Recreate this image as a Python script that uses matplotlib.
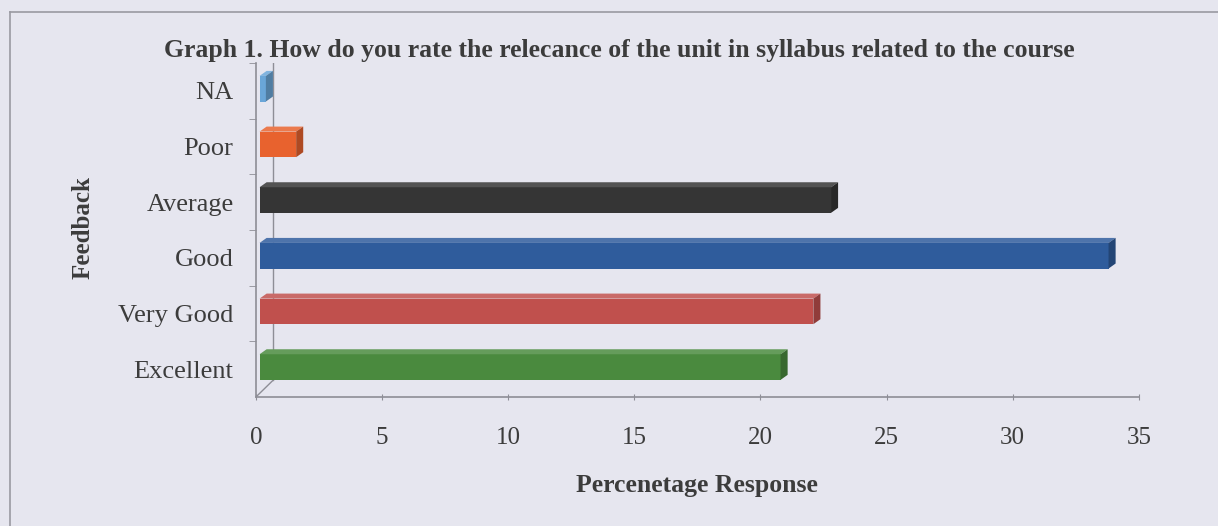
#!/usr/bin/env python3
"""Graph 1: rating of the relevance of the unit in the syllabus (3-D style horizontal bars)."""
import matplotlib

matplotlib.use("Agg")
import matplotlib.pyplot as plt  # noqa: E402
from matplotlib.lines import Line2D  # noqa: E402
from matplotlib.patches import Polygon  # noqa: E402

categories = ["Excellent", "Very Good", "Good", "Average", "Poor", "NA"]
values = [20.8, 22.1, 33.8, 22.8, 1.6, 0.4]
bar_colors = ["#4a8a3e", "#c0504d", "#2f5c9c", "#353535", "#e8622e", "#6aa6d8"]
x_ticks = [0, 5, 10, 15, 20, 25, 30, 35]

BG = "#e6e6ef"
AXC = "#8e8e96"
TXT = "#3c3c3c"
DX, DY = 0.28, 0.09      # depth of the pseudo-3D faces (data units)
WALL = 0.7               # back wall offset
H = 0.46                 # front face height


def shade(c, f):
    r, g, b = matplotlib.colors.to_rgb(c)
    if f > 1:
        return (r + (1 - r) * (f - 1), g + (1 - g) * (f - 1), b + (1 - b) * (f - 1))
    return (r * f, g * f, b * f)


def main():
    plt.rcParams["font.family"] = ["Liberation Serif", "DejaVu Serif"]
    fig = plt.figure(figsize=(12.18, 5.26), dpi=100, facecolor=BG)
    ax = fig.add_axes([0.210, 0.245, 0.725, 0.635], facecolor=BG)

    # frame lines of the pasted picture
    fig.add_artist(Line2D([10 / 1218, 10 / 1218], [0, 1 - 12 / 526], transform=fig.transFigure,
                          color="#9a9aa2", lw=1.2))
    fig.add_artist(Line2D([10 / 1218, 1], [1 - 12 / 526, 1 - 12 / 526], transform=fig.transFigure,
                          color="#9a9aa2", lw=1.2))

    ys = list(range(len(categories)))
    # back wall and floor edge
    ax.plot([WALL, WALL], [-0.5 + 0.31, 5.5], color=AXC, lw=1.0, zorder=1)
    ax.plot([0, WALL], [-0.5, -0.5 + 0.31], color=AXC, lw=1.0, zorder=1)

    for y, v, c in zip(ys, values, bar_colors):
        y0 = y - H / 2 + 0.04
        y1 = y0 + H
        x0 = 0.15
        ax.add_patch(Polygon([(x0, y0), (v, y0), (v, y1), (x0, y1)], closed=True,
                             facecolor=c, edgecolor="none", zorder=3))
        ax.add_patch(Polygon([(x0, y1), (x0 + DX, y1 + DY), (v + DX, y1 + DY), (v, y1)], closed=True,
                             facecolor=shade(c, 1.15), edgecolor="none", zorder=3))
        ax.add_patch(Polygon([(v, y0), (v + DX, y0 + DY), (v + DX, y1 + DY), (v, y1)], closed=True,
                             facecolor=shade(c, 0.75), edgecolor="none", zorder=3))

    ax.set_xlim(0, 35)
    ax.set_ylim(-0.5, 5.5)
    ax.set_xticks(x_ticks)
    ax.set_xticklabels([str(t) for t in x_ticks])
    ax.set_yticks(ys)
    ax.set_yticklabels(categories)
    ax.set_yticks([y + 0.5 for y in ys[:-1]] + [5.5], minor=True)
    ax.tick_params(axis="y", which="major", length=0, pad=16, labelsize=19, labelcolor=TXT)
    ax.tick_params(axis="y", which="minor", length=5, color=AXC, direction="out")
    ax.tick_params(axis="x", length=5, color=AXC, direction="inout", pad=19, labelsize=18,
                   labelcolor=TXT)

    for s in ("top", "right"):
        ax.spines[s].set_visible(False)
    for s in ("left", "bottom"):
        ax.spines[s].set_color(AXC)
        ax.spines[s].set_linewidth(1.2)

    ax.set_xlabel("Percenetage Response", fontsize=18.5, fontweight="bold", color=TXT, labelpad=18)
    fig.text(83 / 1218, 1 - 228 / 526, "Feedback", rotation=90, ha="center", va="center",
             fontsize=18, fontweight="bold", color=TXT)
    fig.text(619 / 1218, 1 - 50 / 526,
             "Graph 1. How do you rate the relecance of the unit in syllabus related to the course",
             ha="center", va="center", fontsize=18.5, fontweight="bold", color=TXT)

    fig.savefig("out.png", dpi=100, facecolor=BG)
    plt.close(fig)


if __name__ == "__main__":
    main()
